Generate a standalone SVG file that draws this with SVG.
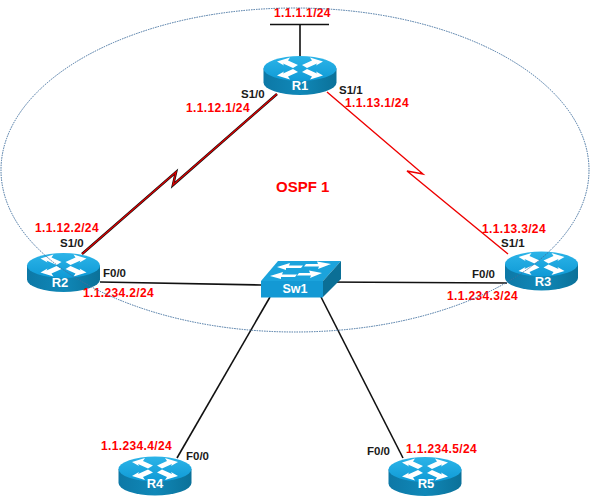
<svg xmlns="http://www.w3.org/2000/svg" xmlns:xlink="http://www.w3.org/1999/xlink" width="600" height="501" viewBox="0 0 600 501">
<style>
text{font-family:"Liberation Sans",Arial,sans-serif;font-weight:bold}
.ip{fill:#ff0000;font-size:12px;letter-spacing:.35px}
.if{fill:#1a1a1a;font-size:11.5px}
.nm{fill:#fff;font-size:13px;text-anchor:middle}
.blk{fill:none;stroke:#111;stroke-width:1.6}
.red{fill:none;stroke:#ee0000;stroke-width:1.4}
.under{fill:none;stroke:#111;stroke-width:2.6}
.over{fill:none;stroke:#e00000;stroke-width:1.3}
</style>
<defs>
<linearGradient id="top" x1="0" y1="0" x2="0" y2="1"><stop offset="0" stop-color="#2cb4e8"/><stop offset="1" stop-color="#0f9ad6"/></linearGradient>
<linearGradient id="side" x1="0" y1="0" x2="1" y2="0"><stop offset="0" stop-color="#0d78a6"/><stop offset=".5" stop-color="#1088b8"/><stop offset="1" stop-color="#0b7199"/></linearGradient>
<polygon id="arw" points="-23,-7 -10,-11 -12,-8 -2,-3.500 -7,-.5 -17,-5 -16,-3" fill="#fff"/>
<g id="router">
<path d="M-36.500 0V14A36.500 12.500 0 0 0 36.500 14V0Z" fill="url(#side)"/>
<ellipse cx="0" cy="0" rx="36.500" ry="12.500" fill="url(#top)"/>
<use xlink:href="#arw" href="#arw"/>
<use xlink:href="#arw" href="#arw" transform="scale(-1,1)"/>
<use xlink:href="#arw" href="#arw" transform="scale(1,-1)"/>
<use xlink:href="#arw" href="#arw" transform="scale(-1,-1)"/>
</g>
</defs>
<rect width="600" height="501" fill="#fff"/>
<g id="connectors">
<path class="under" d="M277,94L173,185L176,172L82,254"/>
<path class="over" d="M277,94L173,185L176,172L82,254"/>
<path class="red" d="M327,92L423,174L407,171L508,254"/>
<path class="blk" d="M100,282L261,285"/>
<path class="blk" d="M323,282L507,283"/>
<path class="blk" d="M270,297L177,458"/>
<path class="blk" d="M321,297L403,458"/>
</g>
<g id="R1">
<path class="blk" d="M270,24.500H329M300,24.500V56"/>
<use xlink:href="#router" href="#router" x="300" y="68.500"/>
<text class="nm" x="300" y="90">R1</text>
<text class="ip" x="274" y="17">1.1.1.1/24</text>
<text class="if" x="241" y="98">S1/0</text>
<text class="ip" x="186" y="112">1.1.12.1/24</text>
<text class="if" x="339" y="94">S1/1</text>
<text class="ip" x="345" y="107">1.1.13.1/24</text>
</g>
<g id="R2">
<use xlink:href="#router" href="#router" x="63.500" y="265.500"/>
<text class="nm" x="60" y="287">R2</text>
<text class="ip" x="35" y="232">1.1.12.2/24</text>
<text class="if" x="60" y="247">S1/0</text>
<text class="if" x="103" y="277">F0/0</text>
<text class="ip" x="83" y="297">1.1.234.2/24</text>
</g>
<g id="R3">
<use xlink:href="#router" href="#router" x="541.500" y="264"/>
<text class="nm" x="543" y="286">R3</text>
<text class="ip" x="482" y="233">1.1.13.3/24</text>
<text class="if" x="501" y="247">S1/1</text>
<text class="if" x="472" y="278">F0/0</text>
<text class="ip" x="447" y="300">1.1.234.3/24</text>
</g>
<g id="R4">
<use xlink:href="#router" href="#router" x="155" y="469"/>
<text class="nm" x="155" y="488">R4</text>
<text class="ip" x="101" y="450">1.1.234.4/24</text>
<text class="if" x="186" y="460">F0/0</text>
</g>
<g id="R5">
<use xlink:href="#router" href="#router" x="425" y="469.500"/>
<text class="nm" x="426" y="488">R5</text>
<text class="ip" x="406" y="453">1.1.234.5/24</text>
<text class="if" x="367" y="455">F0/0</text>
</g>
<g id="Sw1">
<polygon points="261,281 278,261 341,261 323,281" fill="#1ba3dc"/>
<polygon points="323,281 341,261 341,279 323,297" fill="#0b6f96"/>
<rect x="261" y="281" width="62" height="16.500" fill="#1399d4"/>
<path d="M277,267L290,263L289,265.500L303,265.500L301,268L286,268L286,270Z M331,264L317,261.500L318,264L306,264L304,266.500L319,266.500L318,269Z M270,276L283,272L282,274.500L297,274.500L295,277L281,277L281,279Z M322,273L309,270.500L310,273L299,273L297,275.500L311,275.500L310,278Z" fill="#fff"/>
<text class="nm" x="295" y="293" style="font-size:12.5px">Sw1</text>
</g>
<g id="ospf-area">
<ellipse cx="295" cy="170" rx="294" ry="162" fill="none" stroke="#41709f" stroke-width="1" stroke-dasharray="1.500 1"/>
<text x="276" y="192" style="fill:#ff0000;font-size:15px">OSPF 1</text>
</g>
</svg>
